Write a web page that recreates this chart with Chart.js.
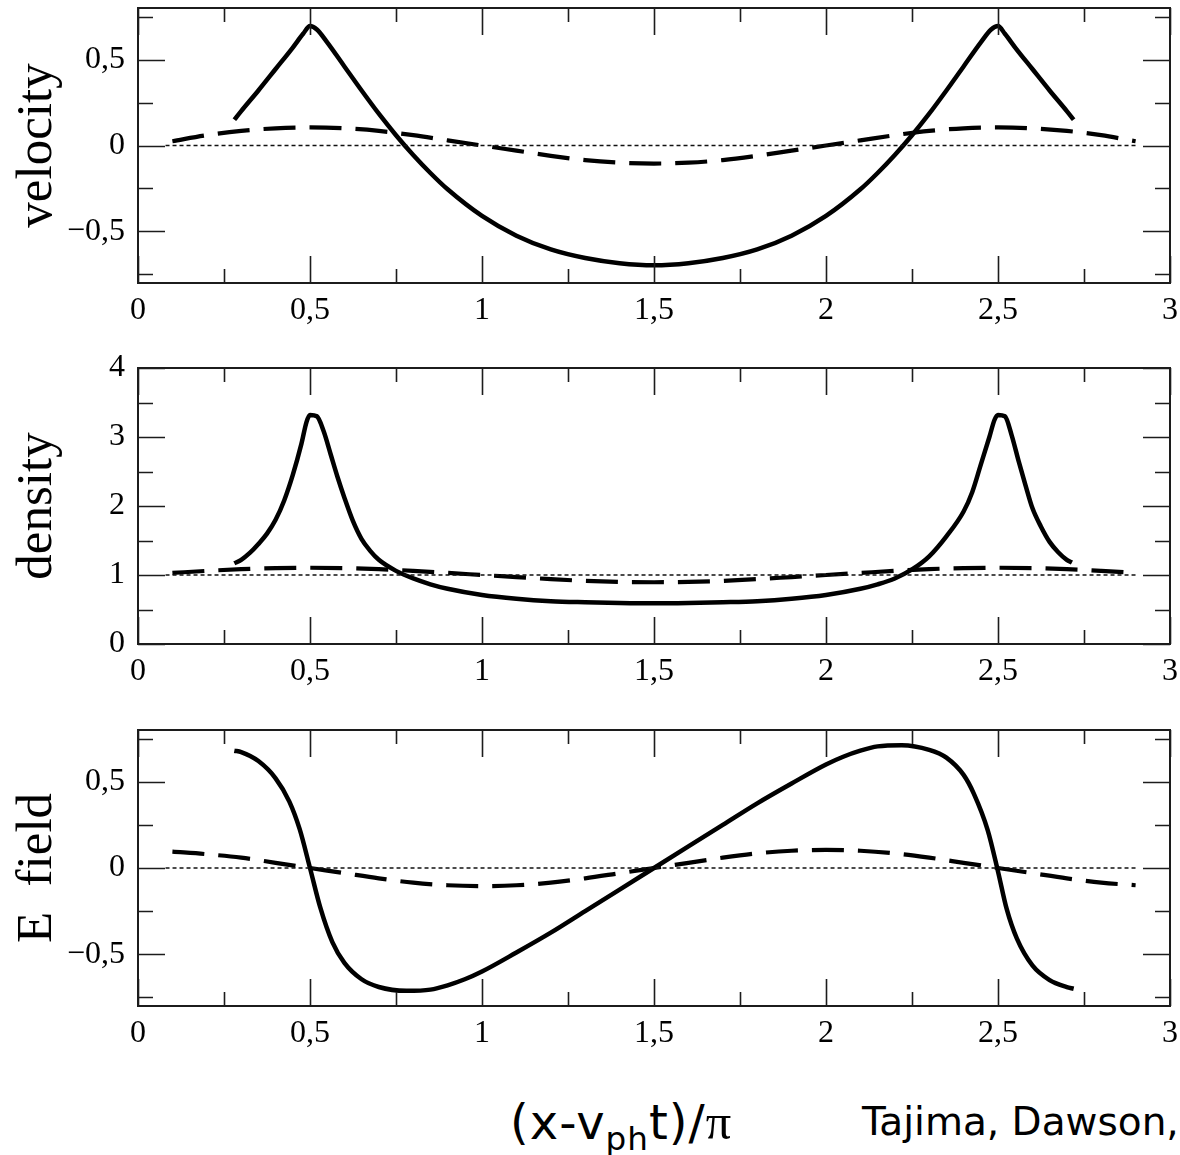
<!DOCTYPE html>
<html lang="en">
<head>
    <meta charset="UTF-8">
    <title>Nonlinear plasma wave</title>
    <script src="https://cdn.jsdelivr.net/npm/chart.js"></script>
    <style>
        body {
            margin: 0;
            background: #fff;
        }
        .wrap {
            position: relative;
            width: 1180px;
            height: 1155px;
            overflow: hidden;
        }
        .wrap canvas {
            position: absolute;
            left: 0;
        }
        .cap {
            position: absolute;
            font-family: "DejaVu Sans", sans-serif;
            color: #000;
            white-space: nowrap;
            line-height: 1;
        }
        .cap sub {
            font-size: 0.68em;
            vertical-align: -0.35em;
        }
        .cap .pi {
            font-family: "Liberation Serif", serif;
            font-size: 1.05em;
        }
    </style>
</head>
<body>
<div class="wrap">
    <canvas id="velChart" width="1180" height="330" style="top:0px"></canvas>
    <canvas id="densChart" width="1180" height="350" style="top:340px"></canvas>
    <canvas id="fieldChart" width="1180" height="350" style="top:700px"></canvas>
    <div class="cap" style="left:510px; top:1097px; font-size:48px; letter-spacing:1px">(x-v<sub>ph</sub>t)/<span class="pi">π</span></div>
    <div class="cap" style="left:862px; top:1102px; font-size:39px">Tajima, Dawson,</div>
</div>

<script>
    // x axis (same for all panels)
    const xTicks = [0, 0.5, 1, 1.5, 2, 2.5, 3];
    const xMinor = [0.25, 0.75, 1.25, 1.75, 2.25, 2.75];

    // velocity panel
    const velTicks = [-0.5, 0, 0.5];
    const velMinor = [-0.75, -0.25, 0.25, 0.75];
    const velSolidX = [0.28, 0.3, 0.35, 0.4, 0.45, 0.48, 0.5, 0.52, 0.55, 0.6, 0.65, 0.7, 0.75, 0.8, 0.85, 0.9,
        1.0, 1.1, 1.2, 1.3, 1.4, 1.5, 1.6, 1.7, 1.8, 1.9, 2.0, 2.1, 2.15, 2.2, 2.25, 2.3, 2.35, 2.4, 2.45,
        2.48, 2.5, 2.52, 2.55, 2.6, 2.65, 2.7, 2.72];
    const velSolidY = [0.15, 0.2, 0.32, 0.445, 0.57, 0.65, 0.695, 0.675, 0.6, 0.46, 0.32, 0.185, 0.06, -0.055, -0.16, -0.255,
        -0.41, -0.525, -0.605, -0.655, -0.685, -0.697, -0.685, -0.655, -0.605, -0.525, -0.41, -0.255, -0.16, -0.055, 0.06, 0.185, 0.32, 0.46, 0.6,
        0.675, 0.695, 0.65, 0.57, 0.445, 0.32, 0.2, 0.15];
    const velDashX = [0.1, 0.2, 0.3, 0.4, 0.5, 0.6, 0.7, 0.8, 0.9, 1.0, 1.1, 1.2, 1.3, 1.4, 1.5,
        1.6, 1.7, 1.8, 1.9, 2.0, 2.1, 2.2, 2.3, 2.4, 2.5, 2.6, 2.7, 2.8, 2.9];
    const velDashY = [0.025, 0.06, 0.085, 0.1, 0.105, 0.1, 0.085, 0.06, 0.03, 0, -0.03, -0.06, -0.085, -0.1, -0.105,
        -0.1, -0.085, -0.06, -0.03, 0, 0.03, 0.06, 0.085, 0.1, 0.105, 0.1, 0.085, 0.06, 0.025];

    // density panel
    const densTicks = [0, 1, 2, 3, 4];
    const densMinor = [0.5, 1.5, 2.5, 3.5];
    const densSolidX = [0.28, 0.3, 0.325, 0.35, 0.375, 0.4, 0.425, 0.45, 0.475, 0.49, 0.5, 0.52, 0.54, 0.56, 0.58, 0.6,
        0.625, 0.65, 0.675, 0.7, 0.75, 0.8, 0.85, 0.9, 1.0, 1.1, 1.2, 1.3, 1.4, 1.5, 1.6, 1.7, 1.8, 1.9, 2.0,
        2.1, 2.15, 2.2, 2.25, 2.3, 2.35, 2.4, 2.425, 2.45, 2.475, 2.49, 2.5, 2.52, 2.54, 2.56, 2.58, 2.6,
        2.625, 2.65, 2.675, 2.7, 2.715];
    const densSolidY = [1.17, 1.22, 1.32, 1.45, 1.6, 1.8, 2.08, 2.45, 2.9, 3.22, 3.32, 3.3, 3.08, 2.75, 2.42, 2.12,
        1.78, 1.52, 1.35, 1.22, 1.06, 0.95, 0.865, 0.8, 0.71, 0.655, 0.62, 0.605, 0.595, 0.59, 0.595, 0.605, 0.62, 0.655, 0.71,
        0.8, 0.865, 0.95, 1.08, 1.27, 1.56, 1.92, 2.2, 2.6, 3.0, 3.25, 3.32, 3.3, 3.02, 2.65, 2.3, 1.97,
        1.7, 1.48, 1.33, 1.22, 1.18];
    const densDashX = [0.1, 0.2, 0.3, 0.4, 0.5, 0.6, 0.7, 0.8, 0.9, 1.0, 1.1, 1.2, 1.3, 1.4, 1.5,
        1.6, 1.7, 1.8, 1.9, 2.0, 2.1, 2.2, 2.3, 2.4, 2.5, 2.6, 2.7, 2.8, 2.9];
    const densDashY = [1.03, 1.06, 1.085, 1.1, 1.105, 1.1, 1.085, 1.06, 1.03, 1.0, 0.97, 0.94, 0.915, 0.9, 0.895,
        0.9, 0.915, 0.94, 0.97, 1.0, 1.03, 1.06, 1.085, 1.1, 1.105, 1.1, 1.085, 1.06, 1.03];

    // E field panel
    const fieldTicks = [-0.5, 0, 0.5];
    const fieldMinor = [-0.75, -0.25, 0.25, 0.75];
    const fieldSolidX = [0.28, 0.3, 0.35, 0.4, 0.44, 0.47, 0.5, 0.53, 0.565, 0.6, 0.65, 0.7, 0.78, 0.85, 0.9, 0.95,
        1.0, 1.1, 1.2, 1.3, 1.4, 1.5, 1.6, 1.7, 1.8, 1.9, 2.0, 2.05, 2.1, 2.15, 2.22, 2.3, 2.35, 2.4, 2.43, 2.47,
        2.5, 2.525, 2.555, 2.6, 2.65, 2.7, 2.72];
    const fieldSolidY = [0.68, 0.672, 0.62, 0.52, 0.385, 0.225, 0.0, -0.23, -0.43, -0.55, -0.645, -0.69, -0.712, -0.705, -0.68, -0.645,
        -0.6, -0.49, -0.375, -0.25, -0.125, 0, 0.125, 0.25, 0.375, 0.49, 0.6, 0.645, 0.68, 0.705, 0.712, 0.685, 0.64, 0.54, 0.43, 0.22,
        -0.02, -0.236, -0.41, -0.565, -0.65, -0.69, -0.7];
    const fieldDashX = [0.1, 0.2, 0.3, 0.4, 0.5, 0.6, 0.7, 0.8, 0.9, 1.0, 1.1, 1.2, 1.3, 1.4, 1.5,
        1.6, 1.7, 1.8, 1.9, 2.0, 2.1, 2.2, 2.3, 2.4, 2.5, 2.6, 2.7, 2.8, 2.9];
    const fieldDashY = [0.095, 0.08, 0.06, 0.03, 0, -0.03, -0.06, -0.085, -0.1, -0.105, -0.1, -0.085, -0.06, -0.03, 0,
        0.03, 0.06, 0.085, 0.1, 0.105, 0.1, 0.085, 0.06, 0.03, 0, -0.03, -0.06, -0.085, -0.1];

    // thin dotted reference line
    const refLineX = [0.08, 2.9];

    const pts = (xs, ys) => xs.map((x, i) => ({ x: x, y: ys[i] }));

    // "0,5" style labels with a real minus sign
    const fmt = (v) => {
        const s = String(Math.abs(v)).replace(".", ",");
        return v < 0 ? "\u2212" + s : s;
    };

    // box around the plot + inward ticks on all four sides
    const frameTicks = {
        id: "frameTicks",
        afterDraw(chart, args, o) {
            const { ctx, chartArea: a, scales: { x, y } } = chart;
            ctx.save();
            ctx.strokeStyle = "#1c1c1c";
            ctx.lineWidth = 1.6;
            ctx.beginPath();
            const tickX = (vals, len) => vals.forEach(v => {
                const px = Math.round(x.getPixelForValue(v)) + 0.5;
                ctx.moveTo(px, a.bottom); ctx.lineTo(px, a.bottom - len);
                ctx.moveTo(px, a.top); ctx.lineTo(px, a.top + len);
            });
            const tickY = (vals, len) => vals.forEach(v => {
                const py = Math.round(y.getPixelForValue(v)) + 0.5;
                ctx.moveTo(a.left, py); ctx.lineTo(a.left + len, py);
                ctx.moveTo(a.right, py); ctx.lineTo(a.right - len, py);
            });
            tickX(xTicks, 27);
            tickX(xMinor, 14);
            tickY(o.major, 27);
            tickY(o.minor, 15);
            ctx.stroke();
            ctx.lineWidth = 2;
            ctx.strokeRect(a.left, a.top, a.right - a.left, a.bottom - a.top);
            ctx.restore();
        }
    };

    function makePanel(id, p) {
        const ctx = document.getElementById(id).getContext("2d");
        return new Chart(ctx, {
            type: "line",
            data: {
                datasets: [
                    {
                        data: pts(refLineX, [p.ref, p.ref]),
                        borderColor: "#111",
                        borderWidth: 1.4,
                        borderDash: [4, 3],
                        pointRadius: 0
                    },
                    {
                        data: pts(p.dashX, p.dashY),
                        borderColor: "#000",
                        borderWidth: 4.2,
                        borderDash: [32, 14],
                        pointRadius: 0,
                        cubicInterpolationMode: "monotone"
                    },
                    {
                        data: pts(p.solidX, p.solidY),
                        borderColor: "#000",
                        borderWidth: 4.5,
                        pointRadius: 0,
                        cubicInterpolationMode: "monotone"
                    }
                ]
            },
            options: {
                responsive: false,
                animation: false,
                events: [],
                layout: { padding: { top: p.top, right: 10, left: 0, bottom: 0 } },
                plugins: {
                    legend: { display: false },
                    tooltip: { enabled: false },
                    frameTicks: { major: p.ticks, minor: p.minor }
                },
                scales: {
                    x: {
                        type: "linear",
                        min: 0,
                        max: 3,
                        grid: { display: false, drawTicks: false },
                        border: { display: false },
                        afterBuildTicks: s => { s.ticks = xTicks.map(v => ({ value: v })); },
                        afterFit: s => {
                            s.height = p.xh;
                            s.paddingLeft = s.paddingRight = s.paddingTop = s.paddingBottom = 0;
                        },
                        ticks: {
                            autoSkip: false,
                            maxRotation: 0,
                            padding: 8,
                            color: "#000",
                            font: { family: "Liberation Serif", size: 32 },
                            callback: v => fmt(v)
                        }
                    },
                    y: {
                        min: p.min,
                        max: p.max,
                        grid: { display: false, drawTicks: false },
                        border: { display: false },
                        afterBuildTicks: s => { s.ticks = p.ticks.map(v => ({ value: v })); },
                        afterFit: s => {
                            s.width = 138;
                            s.paddingLeft = s.paddingRight = s.paddingTop = s.paddingBottom = 0;
                        },
                        ticks: {
                            autoSkip: false,
                            padding: 13,
                            color: "#000",
                            font: { family: "Liberation Serif", size: 32 },
                            callback: v => fmt(v)
                        },
                        title: {
                            display: true,
                            text: p.title,
                            color: "#000",
                            font: { family: "Liberation Serif", size: 51 },
                            padding: { top: 7 }
                        }
                    }
                }
            },
            plugins: [frameTicks]
        });
    }

    makePanel("velChart", {
        title: "velocity", min: -0.8, max: 0.8, ref: 0, top: 8, xh: 47,
        ticks: velTicks, minor: velMinor,
        solidX: velSolidX, solidY: velSolidY, dashX: velDashX, dashY: velDashY
    });
    makePanel("densChart", {
        title: "density", min: 0, max: 4, ref: 1, top: 28, xh: 46,
        ticks: densTicks, minor: densMinor,
        solidX: densSolidX, solidY: densSolidY, dashX: densDashX, dashY: densDashY
    });
    makePanel("fieldChart", {
        title: "E  field", min: -0.8, max: 0.8, ref: 0, top: 30, xh: 44,
        ticks: fieldTicks, minor: fieldMinor,
        solidX: fieldSolidX, solidY: fieldSolidY, dashX: fieldDashX, dashY: fieldDashY
    });
</script>
</body>
</html>
